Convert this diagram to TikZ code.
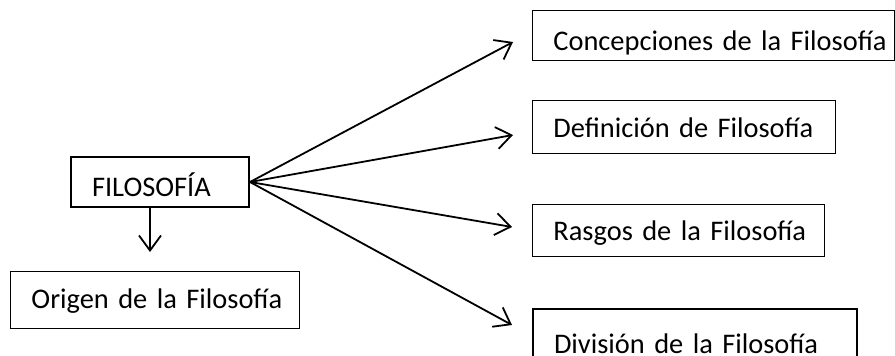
\documentclass[tikz,border=0pt]{standalone}
\usepackage{fontspec}
\setmainfont{Carlito}
\usetikzlibrary{arrows.meta}

\begin{document}
\begin{tikzpicture}[x=1pt, y=-1pt,
        caja/.style={draw, line width=0.9pt, anchor=north west, inner ysep=0pt, inner xsep=21pt,
            align=left, font=\fontsize{28.4}{32}\selectfont},
        gruesa/.style={line width=2pt},
        flecha/.style={-{Straight Barb[length=15pt, width=22pt]}, line width=1.8pt}]
        \useasboundingbox (0,0) rectangle (895,356);

        % tema central y su origen
        \node[caja, gruesa, text width=136pt, text height=39pt, text depth=11pt] (filo) at (70,156) {FILOSOF\'IA};
        \node[caja, text width=247pt, text height=37pt, text depth=20pt] (origen) at (10,271) {Origen~de~la~Filosof\'ia};

        % ramas de la derecha
        \node[caja, text width=320pt, text height=40pt, text depth=10pt] (concep) at (532,10) {Concepciones~de~la~Filosof\'ia};
        \node[caja, text width=261pt, text height=37pt, text depth=16pt] (defin) at (532,100) {Definici\'on~de~Filosof\'ia};
        \node[caja, text width=250pt, text height=36pt, text depth=16pt] (rasgos) at (532,204) {Rasgos~de~la~Filosof\'ia};
        \node[caja, gruesa, text width=282pt, text height=44pt, text depth=22pt] (divis) at (532,308) {Divisi\'on~de~la~Filosof\'ia};

        \coordinate (tOrigen) at (150,252);
        \coordinate (tConcep) at (513,42);
        \coordinate (tDefin) at (513,135);
        \coordinate (tRasgos) at (512,227);
        \coordinate (tDivis) at (512,325);

        \draw[flecha] (filo.south -| tOrigen) -- (tOrigen);
        \foreach \t in {tConcep, tDefin, tRasgos, tDivis}
        \draw[flecha] (filo.east) -- (\t);
\end{tikzpicture}
\end{document}
